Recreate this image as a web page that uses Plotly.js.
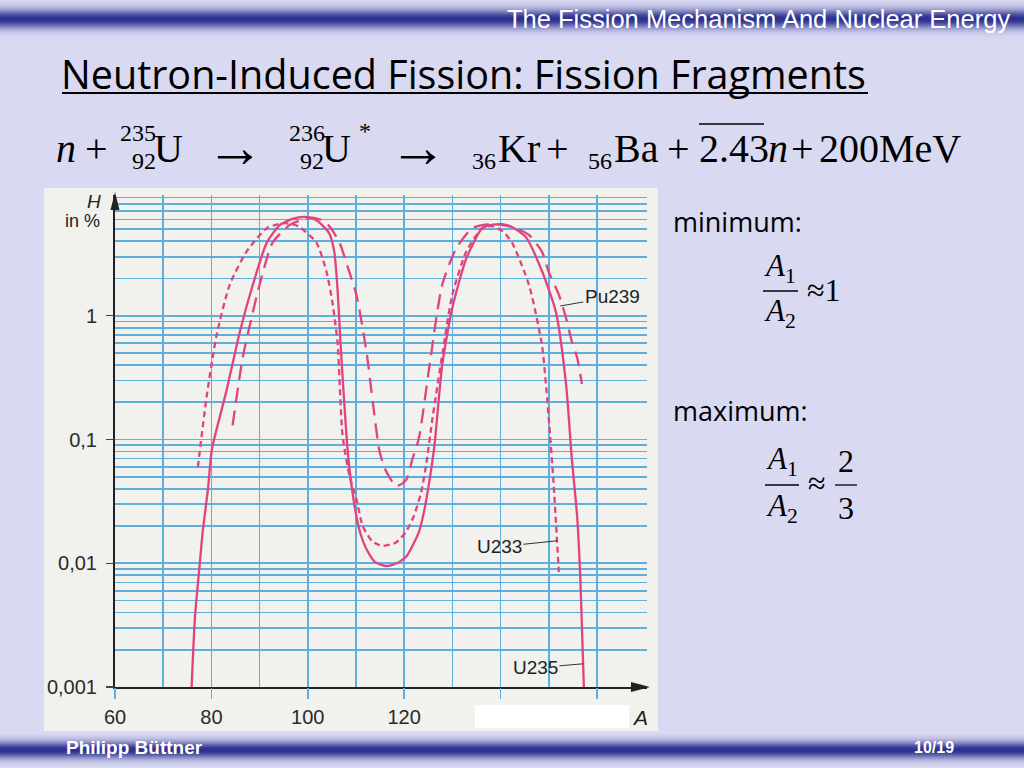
<!DOCTYPE html>
<html><head><meta charset="utf-8">
<script src="https://cdn.plot.ly/plotly-3.0.1.min.js"></script>
<style>html,body{margin:0;padding:0;background:#d9d9f2;}#chart{width:1024px;height:768px;}</style>
</head><body><div id="chart"></div>
<script>
// ---- data (mass number A, yield H in %) ----
const massU235 = [75.9, 76.6, 77.6, 78.2, 79.3, 80.1, 81.5, 83.1, 85.9, 88.6, 91.5, 94.2, 97.0, 99.5, 101.5, 103.0, 104.5, 105.5, 106.2, 106.8, 107.5, 108.3, 109.0, 110.1, 111.0, 112.2, 114.0, 116.3, 118.5, 120.5, 122.0, 123.1, 124.2, 125.2, 126.3, 127.9, 130.0, 132.9, 136.2, 138.5, 140.3, 142.5, 145.3, 148.6, 151.5, 153.6, 154.8, 155.9, 156.6, 157.3];
const yieldU235 = [0.001, 0.0037, 0.01, 0.018, 0.04, 0.083, 0.14, 0.245, 0.74, 1.78, 3.9, 5.4, 6.1, 6.3, 6.0, 5.4, 4.6, 3.3, 1.6, 0.6, 0.22, 0.08, 0.045, 0.024, 0.017, 0.013, 0.0102, 0.0095, 0.0100, 0.0114, 0.0145, 0.018, 0.027, 0.045, 0.09, 0.4, 1.16, 2.9, 5.1, 5.45, 5.5, 5.2, 4.3, 2.3, 1.07, 0.28, 0.07, 0.024, 0.007, 0.001];

const massU233 = [77.2, 79.0, 81.1, 83.8, 87.3, 91.5, 95.0, 98.0, 101.8, 103.9, 105.1, 106.2, 107.2, 108.7, 110.1, 111.4, 113.4, 115.5, 118.3, 120.4, 122.0, 123.5, 124.5, 125.9, 128.0, 130.0, 132.9, 136.2, 138.3, 140.5, 142.4, 145.9, 148.6, 150.0, 151.0, 152.1];
const yieldU233 = [0.06, 0.22, 0.7, 1.78, 3.3, 5.1, 5.6, 5.3, 3.9, 2.26, 1.3, 0.6, 0.11, 0.05, 0.033, 0.02, 0.015, 0.0138, 0.0147, 0.018, 0.024, 0.037, 0.06, 0.15, 0.51, 1.48, 3.3, 5.1, 5.3, 4.8, 3.9, 1.78, 0.58, 0.15, 0.045, 0.0085];

const massPu239 = [84.4, 86.5, 88.3, 90.0, 92.7, 96.2, 99.0, 101.0, 103.0, 104.5, 106.6, 108.4, 110.1, 112.2, 113.5, 114.9, 116.3, 118.4, 120.4, 121.7, 123.1, 125.2, 127.9, 130.8, 134.1, 137.6, 140.5, 143.2, 145.9, 148.6, 150.0, 152.1, 153.6, 154.8, 155.9, 156.9];
const yieldPu239 = [0.13, 0.46, 0.95, 1.78, 3.9, 5.4, 6.0, 6.2, 5.9, 5.3, 3.9, 2.4, 1.48, 0.51, 0.2, 0.08, 0.055, 0.042, 0.047, 0.069, 0.104, 0.38, 1.78, 3.5, 5.1, 5.5, 5.4, 5.1, 4.5, 3.3, 2.26, 1.48, 0.96, 0.62, 0.46, 0.28];

const seriesNames = ["U235", "U233", "Pu239"];
// x axis: gridlines every 10, labels/ticks every 20
const xGridVals = [60, 70, 80, 90, 100, 110, 120, 130, 140, 150, 160];
const xLabelVals = [60, 80, 100, 120];
const xTickMarkVals = [60, 80, 100, 120, 140, 160];
// y axis: decade labels, log gridlines 1..9 per decade
const yDecades = [0.001, 0.01, 0.1, 1];
const yDecadeText = ["0,001", "0,01", "0,1", "1"];

// ---- helpers (pixel -> paper) ----
const W = 1024, H = 768;
const px = x => x / W, py = y => 1 - y / H;

const yGridVals = [], yGridText = [];
yDecades.forEach((d, i) => { for (let m = 1; m <= 9; m++) { yGridVals.push(+(d * m).toPrecision(3)); yGridText.push(m === 1 ? yDecadeText[i] : ''); } });
const xGridText = xGridVals.map(v => xLabelVals.includes(v) ? String(v) : '');

const curveColor = '#e1437c';
const gridColor = '#5eafdc';

const traces = [
  {x: massU235, y: yieldU235, name: seriesNames[0], mode: 'lines', xaxis: 'x', yaxis: 'y',
   line: {color: curveColor, width: 2.3, shape: 'spline', smoothing: 0.6}},
  {x: massU233, y: yieldU233, name: seriesNames[1], mode: 'lines', xaxis: 'x', yaxis: 'y',
   line: {color: curveColor, width: 2.3, dash: '6px,4px', shape: 'spline', smoothing: 0.6}},
  {x: massPu239, y: yieldPu239, name: seriesNames[2], mode: 'lines', xaxis: 'x2', yaxis: 'y2',
   line: {color: curveColor, width: 2.3, dash: '15px,8px', shape: 'spline', smoothing: 0.6}}
];

// ---- background bands (vertical gradient built from strips) ----
const shapes = [];
function mix(a, b, t) {
  const pa = [parseInt(a.slice(1,3),16), parseInt(a.slice(3,5),16), parseInt(a.slice(5,7),16)];
  const pb = [parseInt(b.slice(1,3),16), parseInt(b.slice(3,5),16), parseInt(b.slice(5,7),16)];
  return 'rgb(' + pa.map((v,i) => Math.round(v + (pb[i]-v)*t)).join(',') + ')';
}
function band(center, half, y0, y1) {
  for (let y = y0; y < y1; y++) {
    const d = (y + 0.5 - center) / half;
    const t = Math.exp(-d * d * 1.4);
    shapes.push({type: 'rect', xref: 'paper', yref: 'paper', layer: 'below',
      x0: 0, x1: 1, y0: py(y + 1), y1: py(y), line: {width: 0}, fillcolor: mix('#d9d9f2', '#2c308f', t)});
  }
}
band(19, 11, 0, 42);
band(750, 10, 734, 768);

// chart panel
shapes.push({type: 'rect', xref: 'paper', yref: 'paper', layer: 'below',
  x0: px(44), x1: px(658), y0: py(731), y1: py(188), line: {width: 0}, fillcolor: '#f1f1ed'});
// axis arrowheads
shapes.push({type: 'path', xref: 'paper', yref: 'paper', layer: 'above',
  path: `M${px(115)},${py(192)} L${px(110.5)},${py(210)} L${px(119.5)},${py(210)} Z`, fillcolor: '#222', line: {width: 0}});
shapes.push({type: 'path', xref: 'paper', yref: 'paper', layer: 'above',
  path: `M${px(650)},${py(687)} L${px(631)},${py(682)} L${px(631)},${py(692)} Z`, fillcolor: '#222', line: {width: 0}});
// white patch over the lower tick labels
shapes.push({type: 'rect', xref: 'paper', yref: 'paper', layer: 'above',
  x0: px(475), x1: px(629), y0: py(728), y1: py(705), line: {width: 0}, fillcolor: '#ffffff'});
// title underline
shapes.push({type: 'line', xref: 'paper', yref: 'paper', x0: px(62), x1: px(868), y0: py(93), y1: py(93), line: {color: '#000', width: 2}});
// overline over 2.43
shapes.push({type: 'line', xref: 'paper', yref: 'paper', x0: px(699), x1: px(764), y0: py(124), y1: py(124), line: {color: '#000', width: 1.3}});
// fraction bars
shapes.push({type: 'line', xref: 'paper', yref: 'paper', x0: px(763), x1: px(798), y0: py(291), y1: py(291), line: {color: '#000', width: 1.3}});
shapes.push({type: 'line', xref: 'paper', yref: 'paper', x0: px(765), x1: px(799), y0: py(485), y1: py(485), line: {color: '#000', width: 1.3}});
shapes.push({type: 'line', xref: 'paper', yref: 'paper', x0: px(835), x1: px(857), y0: py(485), y1: py(485), line: {color: '#000', width: 1.3}});

// ---- text ----
const ann = [];
function T(text, x, y, o) {
  o = o || {};
  ann.push({text: text, xref: 'paper', yref: 'paper', x: px(x), y: py(y), showarrow: false,
    xanchor: o.xa || 'left', yanchor: 'middle',
    font: {family: o.f || 'Liberation Serif, Times New Roman, serif', size: o.s || 40, color: o.c || '#000',
           weight: o.w || 'normal', style: o.st || 'normal'}});
}
const SANS = 'Liberation Sans, Arial, sans-serif';
const CAL = 'Open Sans, Noto Sans, sans-serif';
T('The Fission Mechanism And Nuclear Energy', 1012, 19, {f: SANS, s: 25.5, c: '#ffffff', xa: 'right'});
T('Neutron-Induced Fission: Fission Fragments', 59, 74, {f: CAL, s: 39.5});
// equation
const ES = 40, SS = 24;
T('n', 54, 148, {s: ES, st: 'italic'});
T('+', 83, 149, {s: ES});
T('235', 118, 133, {s: SS});
T('92', 130, 161, {s: SS});
T('U', 152, 148, {s: ES});
T('→', 204, 147, {s: 58});
T('236', 287, 133, {s: SS});
T('92', 298, 161, {s: SS});
T('U', 320, 148, {s: ES});
T('*', 357, 131, {s: SS});
T('→', 387, 147, {s: 58});
T('36', 470, 161, {s: SS});
T('Kr', 496, 148, {s: ES});
T('+', 544, 149, {s: ES});
T('56', 586, 161, {s: SS});
T('Ba', 612, 148, {s: ES});
T('+', 665, 149, {s: ES});
T('2.43', 697, 148, {s: ES});
T('n', 766, 148, {s: ES, st: 'italic'});
T('+', 789, 149, {s: ES});
T('200MeV', 817, 148, {s: ES});
// right side
T('minimum:', 671, 221, {f: CAL, s: 27});
T('<i>A</i><sub>1</sub>', 780, 268, {s: 31, xa: 'center'});
T('<i>A</i><sub>2</sub>', 780, 313, {s: 31, xa: 'center'});
T('≈1', 805, 290, {s: 32});
T('maximum:', 671, 410, {f: CAL, s: 27});
T('<i>A</i><sub>1</sub>', 782, 461, {s: 31, xa: 'center'});
T('<i>A</i><sub>2</sub>', 782, 508, {s: 31, xa: 'center'});
T('≈', 806, 483, {s: 32});
T('2', 846, 461, {s: 32, xa: 'center'});
T('3', 846, 508, {s: 32, xa: 'center'});
// footer
T('<b>Philipp Büttner</b>', 64, 747, {f: SANS, s: 19, c: '#ffffff'});
T('<b>10/19</b>', 956, 747, {f: SANS, s: 16, c: '#ffffff', xa: 'right'});
// axis titles
T('<i>H</i>', 94, 201, {f: SANS, s: 19, c: '#222', xa: 'center'});
T('in %', 82, 221, {f: SANS, s: 18, c: '#222', xa: 'center'});
T('<i>A</i>', 640, 717, {f: SANS, s: 21, c: '#222', xa: 'center'});

// curve labels with leader lines
function L(text, xData, yData, ax, ay) {
  ann.push({text: text, x: xData, y: Math.log10(yData), xref: 'x', yref: 'y', showarrow: true,
    arrowhead: 0, arrowwidth: 1, arrowcolor: '#333', ax: ax, ay: ay, standoff: 0,
    font: {family: SANS, size: 19, color: '#222'}});
}
L(seriesNames[2], 152.4, 1.2, 52, -9);
L(seriesNames[1], 151.8, 0.0152, -58, 6);
L(seriesNames[0], 157.2, 0.00154, -48, 4);

const tickFont = {family: SANS, size: 20, color: '#2a2a2a'};
const xRange = [60, 170.4], yRange = [-3, 0.976];
const layout = {
  width: W, height: H, margin: {l: 0, r: 0, t: 0, b: 0},
  paper_bgcolor: '#d9d9f2', plot_bgcolor: 'rgba(0,0,0,0)', showlegend: false,
  xaxis: {domain: [px(115), px(647)], range: xRange, tickmode: 'array', tickvals: xGridVals, ticktext: xGridText,
    ticks: '', ticklabelstandoff: 11,
    showgrid: true, gridcolor: gridColor, gridwidth: 1.6, zeroline: false,
    showline: true, linecolor: '#222', linewidth: 2, tickfont: tickFont},
  yaxis: {domain: [py(687), py(195)], type: 'log', range: yRange, tickmode: 'array', tickvals: yGridVals, ticktext: yGridText,
    ticks: '', ticklabelstandoff: 12,
    showgrid: true, gridcolor: gridColor, gridwidth: 1.6, zeroline: false,
    showline: true, linecolor: '#222', linewidth: 2, tickfont: tickFont},
  xaxis2: {overlaying: 'x', anchor: 'y2', range: xRange, tickmode: 'array', tickvals: xTickMarkVals,
    ticks: 'outside', ticklen: 11, tickcolor: gridColor, tickwidth: 1.6,
    showticklabels: false, showgrid: false, zeroline: false, showline: false},
  yaxis2: {overlaying: 'y', anchor: 'x2', side: 'left', type: 'log', range: yRange, tickmode: 'array', tickvals: yDecades,
    ticks: 'outside', ticklen: 8, tickcolor: '#444', tickwidth: 1.3,
    showticklabels: false, showgrid: false, zeroline: false, showline: false},
  shapes: shapes, annotations: ann
};
Plotly.newPlot('chart', traces, layout, {staticPlot: true, displayModeBar: false});
</script></body></html>
